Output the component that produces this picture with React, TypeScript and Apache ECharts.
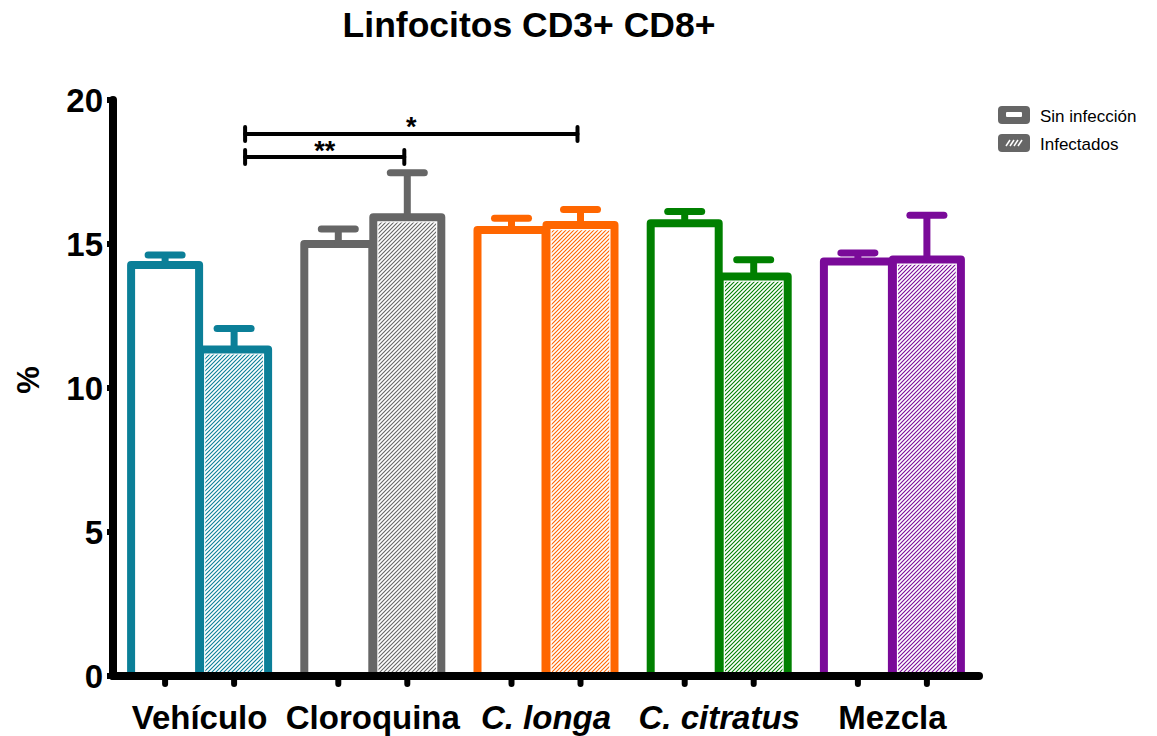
import React, { useEffect, useRef } from "react";
import * as echarts from "echarts";

// Groups along the x axis
const CATEGORIES = ["Vehículo", "Cloroquina", "C. longa", "C. citratus", "Mezcla"];
const ITALIC = [false, false, true, true, false];
const COLORS = ["#0b7f98", "#666666", "#ff6600", "#008000", "#7a0a99"];

// Mean % and error (upper bar) per group
const SIN_INFECCION = [14.27, 15.0, 15.49, 15.72, 14.39];
const SIN_INFECCION_ERR = [0.35, 0.52, 0.4, 0.41, 0.3];
const INFECTADOS = [11.34, 15.93, 15.66, 13.87, 14.46];
const INFECTADOS_ERR = [0.73, 1.54, 0.54, 0.58, 1.54];

// Significance brackets: [from group, to group, level]
const BRACKETS = [
  [0, 1, 18.02],
  [0, 2, 18.82],
];
const BRACKET_LABELS = ["**", "*"];

const Y_TICKS = [0, 5, 10, 15, 20];

const FONT = "'Liberation Sans', Arial, Helvetica, sans-serif";
const BAR_W = 68; // bar width between border centre lines
const OFFSET = 34.5; // bar centre offset from the group centre
const BORDER = 8;

function hatch(color: string) {
  const s = 4;
  const c = document.createElement("canvas");
  c.width = s;
  c.height = s;
  const g = c.getContext("2d")!;
  g.fillStyle = "#ffffff";
  g.fillRect(0, 0, s, s);
  g.strokeStyle = color;
  g.lineWidth = 1.1;
  g.beginPath();
  g.moveTo(0, s);
  g.lineTo(s, 0);
  g.moveTo(-1, 1);
  g.lineTo(1, -1);
  g.moveTo(s - 1, s + 1);
  g.lineTo(s + 1, s - 1);
  g.stroke();
  return { image: c, repeat: "repeat" };
}

function barSeries(name: string, means: number[], side: number, hatched: boolean) {
  const patterns = hatched ? COLORS.map(hatch) : [];
  return {
    name,
    type: "custom",
    z: 2,
    silent: true,
    data: means.map((m, i) => [i, m]),
    encode: { x: 0, y: 1 },
    renderItem: (params: any, api: any) => {
      const cat = api.value(0);
      const top = api.coord([cat, api.value(1)]);
      const bot = api.coord([cat, 0]);
      const xc = top[0] + side * OFFSET;
      const x = xc - BAR_W / 2;
      const color = COLORS[params.dataIndex];
      const children: any[] = [
        {
          type: "rect",
          shape: { x, y: top[1], width: BAR_W, height: bot[1] - top[1] },
          style: { fill: "#ffffff", stroke: color, lineWidth: BORDER, lineJoin: "round" },
        },
      ];
      if (hatched) {
        const inset = BORDER / 2 + 1.2;
        children.push({
          type: "rect",
          shape: {
            x: x + inset,
            y: top[1] + inset,
            width: BAR_W - 2 * inset,
            height: bot[1] - top[1] - inset,
          },
          style: { fill: patterns[params.dataIndex] },
        });
      }
      return { type: "group", children };
    },
  };
}

function errorSeries(means: number[], errs: number[], side: number) {
  return {
    type: "custom",
    z: 3,
    silent: true,
    clip: false,
    data: means.map((m, i) => [i, m, errs[i]]),
    encode: { x: 0, y: 1 },
    renderItem: (params: any, api: any) => {
      const cat = api.value(0);
      const mean = api.value(1);
      const err = api.value(2);
      const base = api.coord([cat, mean]);
      const top = api.coord([cat, mean + err]);
      const x = base[0] + side * OFFSET;
      const color = COLORS[params.dataIndex];
      const st = { stroke: color, lineWidth: 7, lineCap: "round" };
      return {
        type: "group",
        children: [
          { type: "line", shape: { x1: x, y1: base[1], x2: x, y2: top[1] }, style: { ...st, lineCap: "butt" } },
          { type: "line", shape: { x1: x - 17, y1: top[1], x2: x + 17, y2: top[1] }, style: st },
        ],
      };
    },
  };
}

export default function App() {
  const ref = useRef<HTMLDivElement>(null);

  useEffect(() => {
    if (!ref.current) return;
    const chart = echarts.init(ref.current, null, { renderer: "svg" });

    const option: any = {
      animation: false,
      backgroundColor: "#ffffff",
      title: {
        text: "Linfocitos CD3+ CD8+",
        left: 524,
        top: 2,
        textAlign: "center",
        textStyle: { fontFamily: FONT, fontSize: 35.5, fontWeight: "bold", color: "#000" },
      },
      grid: { left: 113, right: 178, top: 100, bottom: 60 },
      xAxis: {
        type: "category",
        data: CATEGORIES,
        z: 10,
        axisLine: { show: true, lineStyle: { color: "#000", width: 8, cap: "round" } },
        axisTick: { show: false },
        axisLabel: {
          margin: 25,
          formatter: (v: string, i: number) => (ITALIC[i] ? `{i|${v}}` : `{b|${v}}`),
          rich: {
            b: { fontFamily: FONT, fontSize: 33, fontWeight: "bold", color: "#000" },
            i: { fontFamily: FONT, fontSize: 33, fontWeight: "bold", fontStyle: "italic", color: "#000" },
          },
        },
      },
      yAxis: {
        type: "value",
        min: Y_TICKS[0],
        max: Y_TICKS[Y_TICKS.length - 1],
        interval: 5,
        z: 10,
        axisLine: { show: true, lineStyle: { color: "#000", width: 8 } },
        axisTick: { show: true, length: 6, lineStyle: { color: "#000", width: 6 } },
        axisLabel: { margin: 10, fontFamily: FONT, fontSize: 33, fontWeight: "bold", color: "#000" },
        splitLine: { show: false },
      },
      series: [
        barSeries("Sin infección", SIN_INFECCION, -1, false),
        barSeries("Infectados", INFECTADOS, 1, true),
        errorSeries(SIN_INFECCION, SIN_INFECCION_ERR, -1),
        errorSeries(INFECTADOS, INFECTADOS_ERR, 1),
        {
          // small ticks under each bar
          type: "custom",
          z: 11,
          silent: true,
          clip: false,
          data: CATEGORIES.map((_, i) => [i, 0]),
          encode: { x: 0, y: 1 },
          renderItem: (params: any, api: any) => {
            const p = api.coord([api.value(0), 0]);
            const st = { stroke: "#000", lineWidth: 6, lineCap: "round" };
            return {
              type: "group",
              children: [-1, 1].map((s) => ({
                type: "line",
                shape: { x1: p[0] + s * OFFSET, y1: p[1], x2: p[0] + s * OFFSET, y2: p[1] + 8 },
                style: st,
              })),
            };
          },
        },
        {
          // significance brackets
          type: "custom",
          z: 5,
          silent: true,
          clip: false,
          data: BRACKETS,
          encode: { x: [0, 1], y: 2 },
          renderItem: (params: any, api: any) => {
            const a = api.coord([api.value(0), api.value(2)]);
            const b = api.coord([api.value(1), api.value(2)]);
            const x1 = a[0] + OFFSET + 11;
            const x2 = b[0] + OFFSET - 3;
            const y = a[1];
            const st = { stroke: "#000", lineWidth: 4, lineCap: "round" };
            return {
              type: "group",
              children: [
                { type: "line", shape: { x1, y1: y, x2, y2: y }, style: st },
                { type: "line", shape: { x1, y1: y - 7, x2: x1, y2: y + 7 }, style: st },
                { type: "line", shape: { x1: x2, y1: y - 7, x2, y2: y + 7 }, style: st },
                {
                  type: "text",
                  style: {
                    text: BRACKET_LABELS[params.dataIndex],
                    x: (x1 + x2) / 2,
                    y: y + 7,
                    align: "center",
                    verticalAlign: "bottom",
                    fill: "#000",
                    font: `bold 27px ${FONT}`,
                  },
                },
              ],
            };
          },
        },
      ],
      graphic: [
        {
          type: "text",
          x: 28,
          y: 380,
          rotation: Math.PI / 2,
          style: {
            text: "%",
            align: "center",
            verticalAlign: "middle",
            fill: "#000",
            font: `bold 31px ${FONT}`,
          },
        },
        // legend
        { type: "rect", shape: { x: 998, y: 106, width: 32, height: 18, r: 4 }, style: { fill: "#666666" } },
        { type: "rect", shape: { x: 1006, y: 112, width: 16, height: 5, r: 1 }, style: { fill: "#ffffff" } },
        { type: "rect", shape: { x: 998, y: 134, width: 32, height: 18, r: 4 }, style: { fill: "#666666" } },
        ...[0, 1, 2, 3].map((k) => ({
          type: "line",
          shape: { x1: 1006 + k * 4, y1: 146, x2: 1010 + k * 4, y2: 140 },
          style: { stroke: "#ffffff", lineWidth: 1.5 },
        })),
        {
          type: "text",
          x: 1040,
          y: 116,
          style: { text: "Sin infección", verticalAlign: "middle", fill: "#000", font: `17px ${FONT}` },
        },
        {
          type: "text",
          x: 1040,
          y: 144,
          style: { text: "Infectados", verticalAlign: "middle", fill: "#000", font: `17px ${FONT}` },
        },
      ],
    };

    chart.setOption(option);
    return () => chart.dispose();
  }, []);

  return (
    <div
      ref={ref}
      style={{ position: "absolute", left: 0, top: 0, width: 1157, height: 736, background: "#fff" }}
    />
  );
}
